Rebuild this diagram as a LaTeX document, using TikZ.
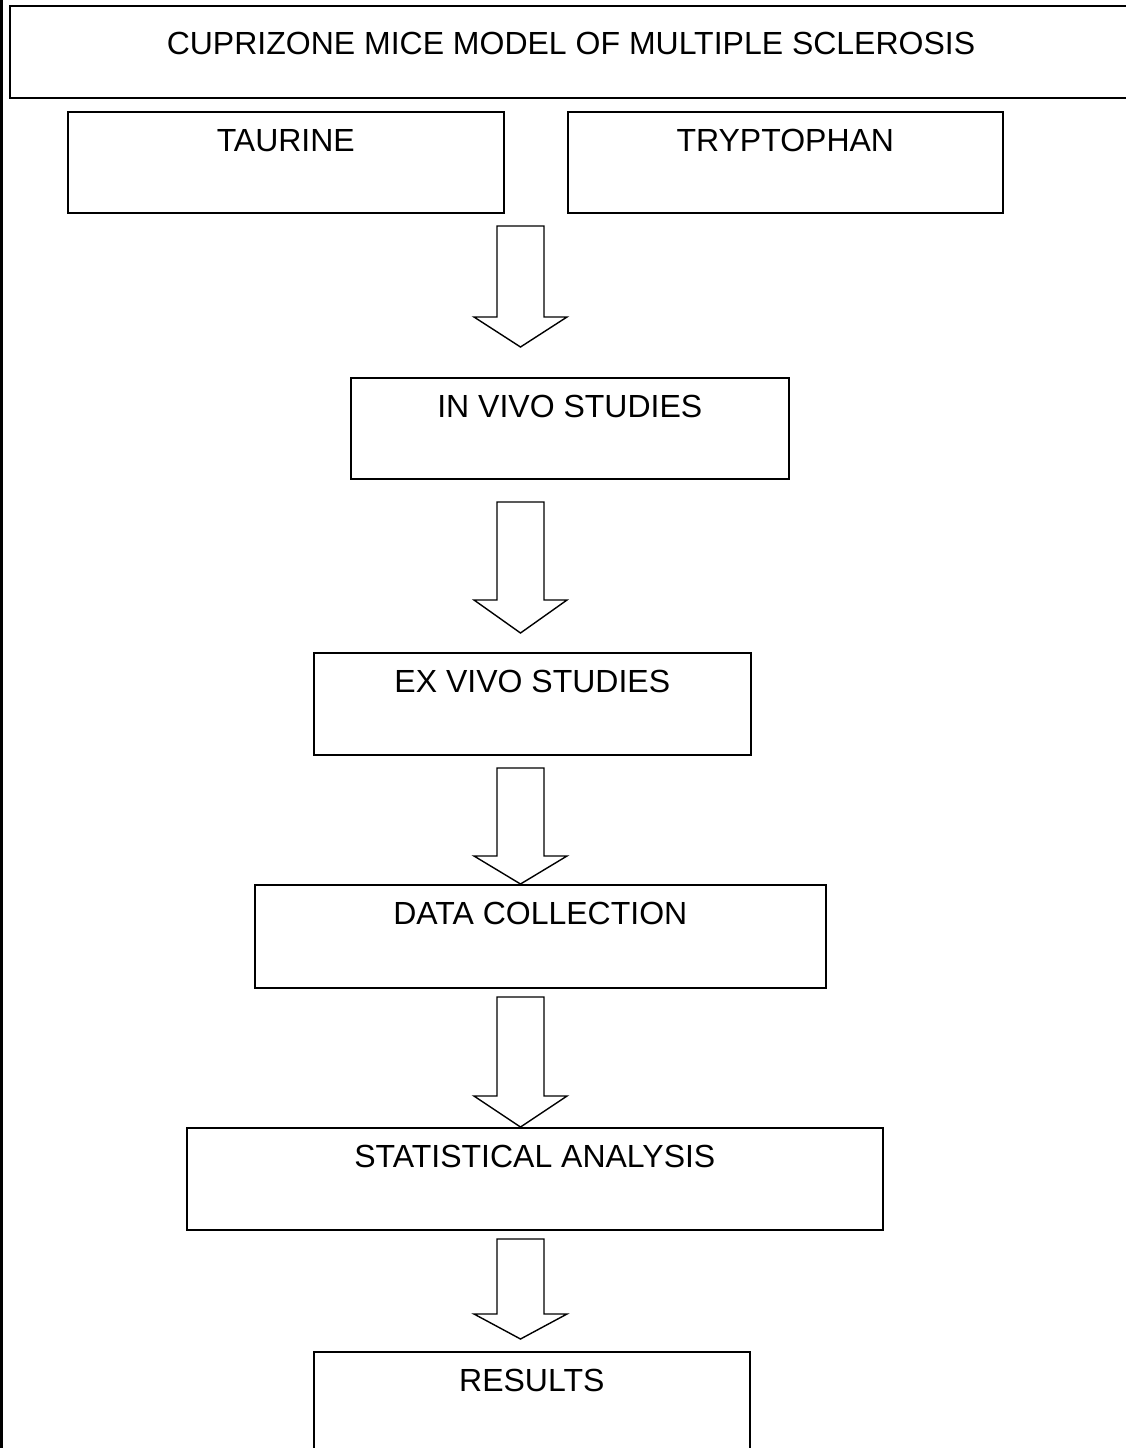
\documentclass[tikz,border=0pt]{standalone}
\usepackage{fontspec}
\setmainfont{Liberation Sans}
\usepackage{tikz}

\newcommand{\flowarrow}[3]{%
  \draw[blockarrow] (497,#1) -- (544,#1) -- (544,#2) -- (567,#2) -- (520.5,#3) -- (474,#2) -- (497,#2) -- cycle;}

\begin{document}
\begin{tikzpicture}[x=1pt,y=-1pt
        ,box/.style = {draw=black,line width=1.6pt,rectangle,inner sep=0pt,anchor=north west
                       ,font=\fontsize{32}{38}\selectfont,text height=40pt,text depth=62pt}
        ,headbox/.style = {box,line width=2pt,text height=48pt,text depth=44pt}
        ,blockarrow/.style = {draw=black,line width=1.4pt,fill=white,line join=miter}
      ]
      \useasboundingbox (0,0) rectangle (1125,1448);
      \draw[line width=3pt] (1.5,0) -- (1.5,1448);

      \node[headbox,minimum width=1122pt](model) at (9,5) {CUPRIZONE MICE MODEL OF MULTIPLE SCLEROSIS};
      \node[box,minimum width=436pt,text depth=61pt](taurine) at (67,111) {TAURINE};
      \node[box,minimum width=435pt,text depth=61pt](trypto) at (567,111) {TRYPTOPHAN};
      \node[box,minimum width=438pt,text depth=61pt](invivo) at (350,377) {IN VIVO STUDIES};
      \node[box,minimum width=437pt](exvivo) at (313,652) {EX VIVO STUDIES};
      \node[box,minimum width=571pt,text depth=63pt](datacoll) at (254,884) {DATA COLLECTION};
      \node[box,minimum width=696pt](stats) at (186,1127) {STATISTICAL ANALYSIS};
      \node[box,minimum width=436pt](results) at (313,1351) {RESULTS};

      \flowarrow{226}{317}{347}
      \flowarrow{502}{600}{633}
      \flowarrow{768}{856}{884}
      \flowarrow{997}{1096}{1127}
      \flowarrow{1239}{1314}{1339}
    \end{tikzpicture}
\end{document}
